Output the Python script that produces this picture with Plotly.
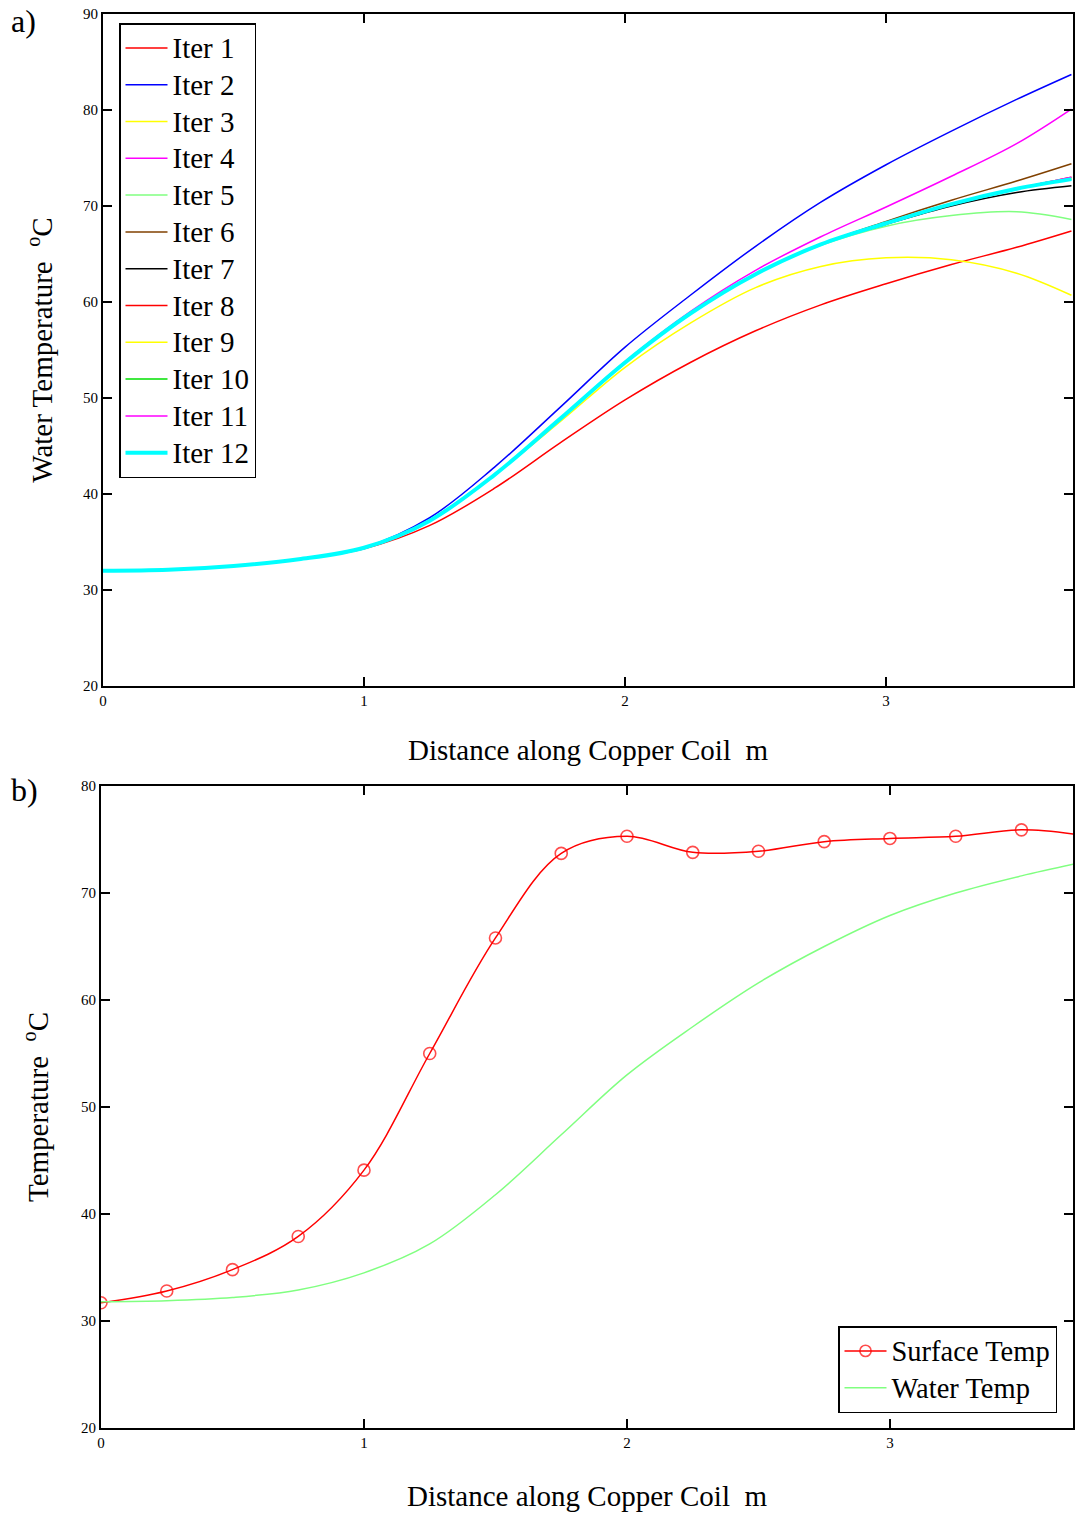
import plotly.graph_objects as go

# ---------------- data ----------------
dist = [0.0, 0.25, 0.5, 0.75, 1.0, 1.25, 1.5, 1.75, 2.0, 2.25, 2.5, 2.75, 3.0, 3.25, 3.5, 3.71]

iter_names = ["Iter 1", "Iter 2", "Iter 3", "Iter 4", "Iter 5", "Iter 6",
              "Iter 7", "Iter 8", "Iter 9", "Iter 10", "Iter 11", "Iter 12"]

iter1 = [32.0, 32.1, 32.5, 33.2, 34.3, 36.7, 40.6, 45.3, 49.8, 53.7, 57.0, 59.7, 61.9, 63.9, 65.7, 67.4]
iter2 = [32.0, 32.1, 32.5, 33.2, 34.4, 37.5, 42.8, 49.0, 55.3, 60.7, 65.8, 70.4, 74.3, 77.8, 81.1, 83.7]
iter3 = [32.0, 32.1, 32.5, 33.2, 34.4, 37.2, 42.0, 47.5, 53.2, 57.8, 61.5, 63.7, 64.6, 64.4, 63.0, 60.7]
iter4 = [32.0, 32.1, 32.5, 33.2, 34.4, 37.2, 42.0, 47.8, 53.8, 59.0, 63.3, 66.8, 69.9, 73.1, 76.5, 80.1]
iter5 = [32.0, 32.1, 32.5, 33.2, 34.4, 37.2, 42.0, 47.8, 53.7, 58.8, 62.9, 65.9, 67.9, 69.0, 69.4, 68.6]
iter6 = [32.0, 32.1, 32.5, 33.2, 34.4, 37.2, 42.0, 47.8, 53.7, 58.8, 62.9, 66.0, 68.4, 70.6, 72.6, 74.4]
iter7 = [32.0, 32.1, 32.5, 33.2, 34.4, 37.2, 42.0, 47.8, 53.7, 58.8, 62.9, 66.0, 68.1, 70.0, 71.4, 72.1]
iter8 = [32.0, 32.1, 32.5, 33.2, 34.4, 37.2, 42.0, 47.8, 53.7, 58.8, 62.9, 66.0, 68.2, 70.2, 71.8, 73.0]
iter9 = [32.0, 32.1, 32.5, 33.2, 34.4, 37.2, 42.0, 47.8, 53.7, 58.8, 62.9, 66.0, 68.2, 70.2, 71.8, 72.9]
iter10 = [32.0, 32.1, 32.5, 33.2, 34.4, 37.2, 42.0, 47.8, 53.7, 58.8, 62.9, 66.0, 68.2, 70.2, 71.8, 72.8]
iter11 = [32.0, 32.1, 32.5, 33.2, 34.4, 37.2, 42.0, 47.8, 53.7, 58.8, 62.9, 66.0, 68.2, 70.2, 71.8, 73.0]
iter12 = [32.0, 32.1, 32.5, 33.2, 34.4, 37.2, 42.0, 47.8, 53.7, 58.8, 62.9, 66.0, 68.2, 70.2, 71.8, 72.8]

iter_series = [iter1, iter2, iter3, iter4, iter5, iter6,
               iter7, iter8, iter9, iter10, iter11, iter12]

# bottom panel
surf_dist = [0.0, 0.25, 0.5, 0.75, 1.0, 1.25, 1.5, 1.75, 2.0, 2.25, 2.5, 2.75, 3.0, 3.25, 3.5, 3.70]
surface_temp = [31.7, 32.8, 34.8, 37.9, 44.1, 55.0, 65.8, 73.7, 75.3, 73.8, 73.9, 74.8, 75.1, 75.3, 75.9, 75.5]
water_dist = [0.0, 0.25, 0.5, 0.75, 1.0, 1.25, 1.5, 1.75, 2.0, 2.25, 2.5, 2.75, 3.0, 3.25, 3.5, 3.70]
water_temp = [31.8, 31.9, 32.2, 32.9, 34.5, 37.2, 41.8, 47.4, 53.0, 57.5, 61.6, 65.0, 67.9, 70.0, 71.6, 72.7]

# ---------------- styles ----------------
iter_colors = ["#ff0000", "#0000ff", "#ffff00", "#ff00ff", "#80ff80", "#804000",
               "#000000", "#ff0000", "#ffff00", "#00e000", "#ff00ff", "#00ffff"]
iter_widths = [1.5] * 11 + [4]

FONT = "Liberation Serif"
W, H = 1075, 1514


def big(label, size):
    return '<span style="font-size:%spx">%s</span>' % (size, label)


fig = go.Figure()

for name, ys, col, lw in zip(iter_names, iter_series, iter_colors, iter_widths):
    fig.add_trace(go.Scatter(x=dist, y=ys, name=big(name, 29), mode="lines",
                             line=dict(color=col, width=lw, shape="spline"),
                             xaxis="x", yaxis="y", legend="legend"))

marker_sizes = [12] * (len(surf_dist) - 1) + [0]
fig.add_trace(go.Scatter(x=surf_dist, y=surface_temp, name=big("Surface Temp", 28.5),
                         mode="lines+markers",
                         line=dict(color="#ff0000", width=1.5, shape="spline"),
                         marker=dict(symbol="circle-open", size=marker_sizes,
                                     color="#ff0000", line=dict(width=1.6, color="#ff0000")),
                         xaxis="x2", yaxis="y2", legend="legend2"))
fig.add_trace(go.Scatter(x=water_dist, y=water_temp, name=big("Water Temp", 28.5), mode="lines",
                         line=dict(color="#80ff80", width=1.5, shape="spline"),
                         xaxis="x2", yaxis="y2", legend="legend2"))


def px_x(p):
    return p / W


def px_y(p):
    return 1 - p / H


axis_common = dict(showline=True, linecolor="black", linewidth=2, mirror="ticks",
                   ticks="inside", ticklen=9, tickwidth=1.5, tickcolor="black",
                   showgrid=False, zeroline=False, automargin=False,
                   tickfont=dict(family=FONT, size=15, color="black"))

title_font = dict(family=FONT, size=29, color="black")

fig.update_layout(
    width=W, height=H,
    margin=dict(l=0, r=0, t=0, b=0),
    paper_bgcolor="white", plot_bgcolor="white",
    font=dict(family=FONT, color="black"),
    showlegend=True,
    xaxis=dict(domain=[px_x(103), px_x(1073)], range=[0, 3.716], anchor="y",
               tickvals=[0, 1, 2, 3],
               title=dict(text="Distance along Copper Coil  m", standoff=32, font=title_font),
               **axis_common),
    yaxis=dict(domain=[px_y(686), px_y(14)], range=[20, 90], anchor="x",
               tickvals=[20, 30, 40, 50, 60, 70, 80, 90],
               title=dict(text="Water Temperature  <sup>o</sup>C", standoff=22, font=title_font),
               **axis_common),
    xaxis2=dict(domain=[px_x(101), px_x(1073)], range=[0, 3.696], anchor="y2",
                tickvals=[0, 1, 2, 3],
                title=dict(text="Distance along Copper Coil  m", standoff=36, font=title_font),
                **axis_common),
    yaxis2=dict(domain=[px_y(1428), px_y(786)], range=[20, 80], anchor="x2",
                tickvals=[20, 30, 40, 50, 60, 70, 80],
                title=dict(text="Temperature  <sup>o</sup>C", standoff=24, font=title_font),
                **axis_common),
    legend=dict(x=px_x(119), y=px_y(23), xanchor="left", yanchor="top",
                bgcolor="white", bordercolor="black", borderwidth=1.5,
                font=dict(family=FONT, size=26, color="black"),
                itemwidth=42, tracegroupgap=0),
    legend2=dict(x=px_x(1057), y=px_y(1413), xanchor="right", yanchor="bottom",
                 bgcolor="white", bordercolor="black", borderwidth=1.5,
                 font=dict(family=FONT, size=26, color="black"),
                 itemwidth=42),
    annotations=[
        dict(text="a)", x=px_x(9), y=px_y(1), xref="paper", yref="paper",
             xanchor="left", yanchor="top", showarrow=False,
             font=dict(family=FONT, size=32, color="black")),
        dict(text="b)", x=px_x(9), y=px_y(770), xref="paper", yref="paper",
             xanchor="left", yanchor="top", showarrow=False,
             font=dict(family=FONT, size=32, color="black")),
    ],
)

fig.write_html("out.html")
